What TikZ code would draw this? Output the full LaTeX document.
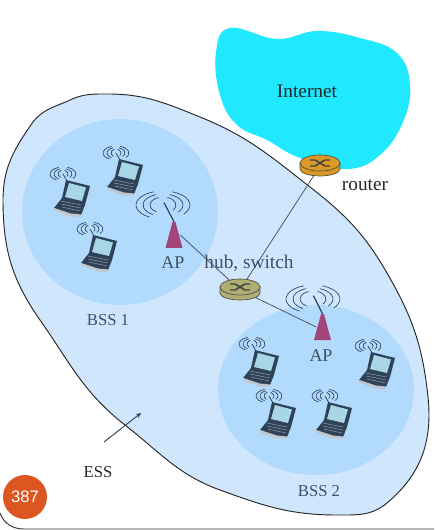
\documentclass[tikz,border=0pt]{standalone}
\usepackage{fontspec}
\setmainfont{Liberation Serif}
\newfontfamily\badgefont{Liberation Sans}
\usepackage{tikz}
\usetikzlibrary{arrows,positioning}
\usetikzlibrary{shapes.geometric}
\definecolor{essBlue}{HTML}{D0E6FD}
\definecolor{bssBlue}{HTML}{B2DAFD}
\definecolor{cloudCyan}{HTML}{1FE8FF}
\definecolor{routerGold}{HTML}{DB9A26}
\definecolor{hubOlive}{HTML}{AEAE72}
\definecolor{apPink}{HTML}{A2457A}
\definecolor{inkNavy}{HTML}{3F5064}
\definecolor{lapDark}{HTML}{2F4358}
\definecolor{lapScreen}{HTML}{A9D6E6}
\definecolor{badgeRed}{HTML}{DC5621}
\tikzset{lbl/.style={text=inkNavy, inner sep=0pt, font=\fontsize{13.5}{14}\selectfont}}
\tikzset{blk/.style={text=black!85, inner sep=0pt, font=\fontsize{14.5}{15}\selectfont}}
\tikzset{l/.style={draw, inkNavy, line width=.55pt}}
\tikzset{box/.style={ellipse, inner sep=0pt, minimum width=30pt, minimum height=14pt}}
\tikzset{ap/.style={rectangle, inner sep=0pt, minimum width=9pt, minimum height=19.5pt}}
\tikzset{
  pics/waves/.style={code={
    \foreach \rx/\ry in {#1} {
      \draw[lapDark, line width=.5pt] (-.5*\rx,.866*\ry) arc[start angle=240, end angle=110, x radius=\rx*.75pt, y radius=\ry*.75pt];
      \draw[lapDark, line width=.5pt] (.766*\rx,.643*\ry) arc[start angle=-40, end angle=70, x radius=\rx*.75pt, y radius=\ry*.75pt];
    }
  }},
  pics/laptop/.style={code={
    \pic at (-9,-24) {waves={5/4,9/5.5,13/7}};
    \draw[lapDark, line width=.6pt] (-5,-17) -- (-9,-24);
    \fill[lapDark] (-6,-18) -- (18,-12) -- (13,7) -- (9,17) -- (-1,16) -- (-18,10) -- (-10,0) -- cycle;
    \fill[lapScreen] (-3,-15) -- (14,-10.5) -- (10,3) -- (-7,-1) -- cycle;
    \fill[white!70!lapDark] (-18,10) -- (-1,15.5) -- (9,16.5) -- (8,19) -- (-2,18.5) -- (-18,12.5) -- cycle;
    \foreach \k in {3,6,9} {\draw[white!55!lapDark, line width=.3pt] (-12+\k*.2,\k) -- (10-\k*.2,4+\k);}
  }},
  pics/hub/.style={code={
    \draw[fill=#1, draw=black!70, line width=.5pt] (-20,-3) -- (-20,3) arc[start angle=180, end angle=360, x radius=20*.75pt, y radius=7*.75pt] -- (20,-3) -- cycle;
    \draw[fill=#1, draw=black!70, line width=.5pt] (0,-3) ellipse[x radius=20*.75pt, y radius=8*.75pt];
    \draw[black!75, line width=1.1pt] (-10,-6) -- (-5,-6) -- (5,0) -- (10,0);
    \draw[black!75, line width=1.1pt] (-10,0) -- (-5,0) -- (5,-6) -- (10,-6);
  }},
  pics/apbody/.style={code={
    \fill[apPink] (-1.5,-13) -- (1.5,-13) -- (8.5,13) -- (-8.5,13) -- cycle;
  }}
}

\begin{document}
\begin{tikzpicture}[x=.75pt,y=-.75pt]
    \useasboundingbox (0,0) rectangle (434,530);
    %% frame at the bottom
    \draw[black!80, line width=.7pt] (0,513) to[out=-70,in=180] (24,529) -- (434,529);
    %% cloud
    \fill[cloudCyan] plot[smooth cycle, tension=.7] coordinates {(230,28) (277,39) (317,31) (360,38)
      (397,53) (410,85) (403,122) (380,155) (347,169) (300,158) (267,140) (237,125) (220,95) (216,52)};
    %% ESS
    \draw[black!85, fill=essBlue, line width=.7pt] (108,94) to[out=0,in=158] (200,117)
      to[out=-22,in=142] (310,187) to[out=-38,in=120] (387,273) to[out=-60,in=96] (428,397)
      to[out=-84,in=40] (387,503) to[out=-140,in=0] (337,515) to[out=180,in=-20] (220,490)
      to[out=160,in=-38] (125,425) to[out=142,in=-55] (40,320) to[out=125,in=-90] (3,200)
      to[out=90,in=-125] (33,122) to[out=52,in=-155] (70,100) to[out=25,in=180] (108,94) -- cycle;
    %% BSS
    \fill[bssBlue] (120,212) ellipse[x radius=98*.75pt, y radius=93*.75pt];
    \fill[bssBlue] (316,390) ellipse[x radius=98*.75pt, y radius=85*.75pt];
    %% devices
    \node (rt) at (320,166) [box] {};
    \node (sw) at (240,290) [box] {};
    \node (ap1) at (174,235) [ap] {};
    \node (ap2) at (322.5,327) [ap] {};
    \draw [l] (rt) to (sw);
    \draw [l] (ap1.east) to (sw);
    \draw [l] (sw) to (ap2.west);
    \pic at (ap1) {apbody};
    \pic at (ap2) {apbody};
    \pic at (rt) {hub=routerGold};
    \pic at (sw) {hub=hubOlive};
    \draw[lapDark, line width=.9pt] (ap1.north) to ++(-10,-19);
    \draw[lapDark, line width=.9pt] (ap2.north) to ++(-9,-18);
    \pic at (163,205) {waves={13/8,20/11,27/14}};
    \pic at (313,299) {waves={13/8,20/11,27/14}};
    \foreach \p in {(72,198),(125,177),(99,253),(261,368),(377,370),(278,420),(334,420)}
      \pic at \p {laptop};
    %% labels
    \node (inet) at (307,91) [blk] {Internet};
    \node (rtl) at (365,185) [blk] {router};
    \node (apl1) at (173,263) [lbl] {AP};
    \node (apl2) at (321,356) [lbl] {AP};
    \node (swl) at (249,263) [lbl, font=\fontsize{14.5}{15}\selectfont] {hub, switch};
    \node (bss1) at (108,320) [lbl, font=\fontsize{12.5}{13}\selectfont] {BSS 1};
    \node (bss2) at (319,491) [lbl, font=\fontsize{12.5}{13}\selectfont] {BSS 2};
    \node (ess) at (98,472) [blk, font=\fontsize{12.5}{13}\selectfont] {ESS};
    \coordinate (esst) at (141,413);
    \coordinate (esss) at (104,442);
    \draw [lapDark, line width=.7pt, -stealth] (esss) to (esst);
    %% page badge
    \node (pg) at (25,497) [circle, fill=badgeRed, inner sep=0pt, minimum size=33pt, text=white,
      font=\badgefont\fontsize{12.5}{13}\selectfont] {387};
\end{tikzpicture}
\end{document}
